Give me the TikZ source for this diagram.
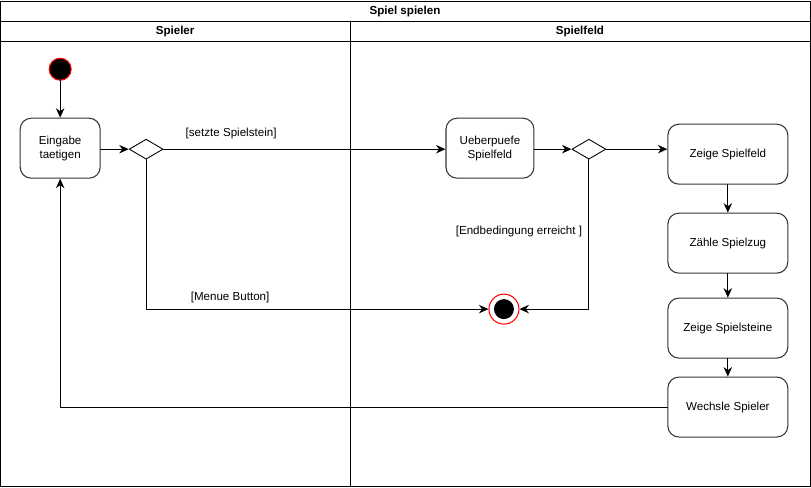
\documentclass[tikz,border=0pt]{standalone}
\usepackage{fontspec}
\setmainfont{Liberation Sans}
\usetikzlibrary{arrows.meta, shapes.geometric, positioning}
\definecolor{ink}{HTML}{000000}
\definecolor{frame}{HTML}{333333}
\definecolor{startred}{HTML}{FF0000}
\tikzset{el/.style={line cap=round, line join=round}}

\begin{document}
\begin{tikzpicture}[el, x=0.02cm, y=-0.02cm,
     act/.style={draw=frame, line width=0.6pt, rounded corners=2.2mm, minimum width=2.4cm,
        minimum height=1.2cm, align=center, fill=white, font=\fontsize{6.6}{8}\selectfont},
     actw/.style={act, minimum width=1.6cm},
     actm/.style={act, minimum width=1.76cm},
     dec/.style={diamond, draw=ink, line width=0.5pt, aspect=1.7, minimum width=0.68cm,
        minimum height=0.4cm, inner sep=0pt, fill=white},
     lbl/.style={font=\fontsize{6.6}{8}\selectfont, inner sep=1pt},
     head/.style={font=\bfseries\fontsize{6.6}{8}\selectfont},
     ar/.style={-{Stealth[length=1.9mm, width=1.7mm]}, ink, line width=0.6pt}]
     % swimlane frame
     \draw[ink, line width=0.8pt] (0.5,0.5) rectangle (810.5,485.5);
     \draw[ink, line width=0.6pt] (0.5,20) -- (810.5,20);
     \draw[ink, line width=0.6pt] (0.5,40) -- (810.5,40);
     \draw[ink, line width=0.6pt] (350,20) -- (350,485.5);
     \node[head] (title) at (405,10) {Spiel spielen};
     \node[head] (lane1) at (175,30) {Spieler};
     \node[head] (lane2) at (580,30) {Spielfeld};
     % nodes
     \node[circle, fill=black, draw=startred, line width=0.6pt, minimum size=0.44cm, inner sep=0pt] (start) at (60,68) {};
     \node[actw] (input) at (60,147) {Eingabe\\taetigen};
     \node[dec] (d1) at (146,148) {};
     \node[actm] (check) at (490,147) {Ueberpuefe\\Spielfeld};
     \node[dec] (d2) at (589,148) {};
     \node[act] (show) at (728,153) {Zeige Spielfeld};
     \node[act] (count) at (728,242) {Zähle Spielzug};
     \node[act] (stones) at (728,327) {Zeige Spielsteine};
     \node[act] (switch) at (728,406) {Wechsle Spieler};
     \node[circle, draw=startred, fill=white, line width=0.6pt, minimum size=0.6cm, inner sep=0pt] (end) at (504,308) {};
     \node[circle, fill=black, minimum size=0.4cm, inner sep=0pt] at (end) {};
     % flows
     \draw[ar] (start) -- (input);
     \draw[ar] (input.east |- d1) -- (d1.west);
     \draw[ar] (d1.east) -- (check.west |- d1);
     \draw[ar] (check.east |- d2) -- (d2.west);
     \draw[ar] (d2.east) -- (show.west |- d2);
     \draw[ar] (show) -- (count);
     \draw[ar] (count) -- (stones);
     \draw[ar] (stones) -- (switch);
     \draw[ar] (switch.west) -| (input.south);
     \draw[ar] (d1.south) |- (end.west);
     \draw[ar] (d2.south) |- (end.east);
     \node[lbl] (l1) at (231,132) {[setzte Spielstein]};
     \node[lbl] (l2) at (230,296) {[Menue Button]};
     \node[lbl] (l3) at (519,230) {[Endbedingung erreicht ]};
  \end{tikzpicture}
\end{document}
